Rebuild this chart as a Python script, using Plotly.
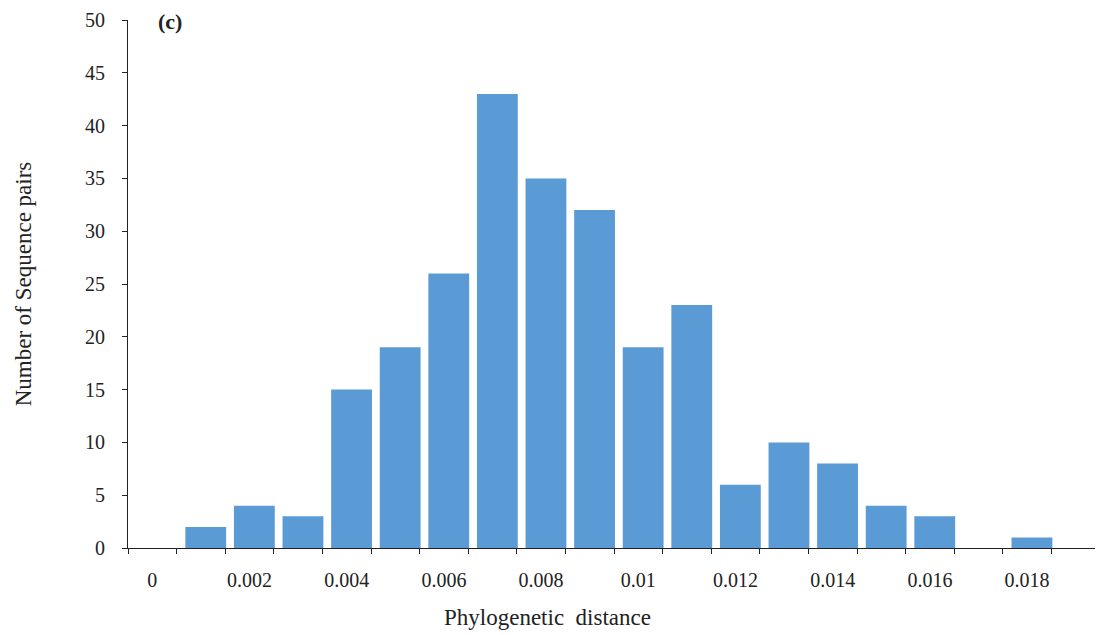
import plotly.graph_objects as go

categories = ["0", "0.001", "0.002", "0.003", "0.004", "0.005", "0.006", "0.007", "0.008", "0.009",
              "0.01", "0.011", "0.012", "0.013", "0.014", "0.015", "0.016", "0.017", "0.018", "0.019"]
counts = [0, 2, 4, 3, 15, 19, 26, 43, 35, 32, 19, 23, 6, 10, 8, 4, 3, 0, 1, 0]
tick_labels = [c if i % 2 == 0 and i < 19 else "" for i, c in enumerate(categories)]
x_title = "Phylogenetic&nbsp; distance"
y_title = "Number of Sequence pairs"

SERIF = "Liberation Serif, Times New Roman, serif"
TXT = "#222"

fig = go.Figure(go.Bar(
    x=categories, y=counts,
    marker=dict(color="#5B9BD5", line=dict(width=0)),
    width=0.84, offset=-0.32,
))

fig.update_layout(
    width=1103, height=635,
    margin=dict(l=120, r=11, t=12, b=95),
    plot_bgcolor="white", paper_bgcolor="white",
    showlegend=False,
    font=dict(family=SERIF, color=TXT),
    annotations=[
        dict(text="<b>(c)</b>", x=0.043, y=0.997, xref="paper", yref="paper",
             xanchor="center", yanchor="middle", showarrow=False,
             font=dict(family=SERIF, size=22, color=TXT)),
        dict(text=x_title, x=0.432, y=-0.131, xref="paper", yref="paper",
             xanchor="center", yanchor="middle", showarrow=False,
             font=dict(family=SERIF, size=23, color=TXT)),
    ],
)

fig.update_xaxes(
    type="category", tickmode="array", tickvals=categories, ticktext=tick_labels,
    tickson="boundaries", ticks="outside", ticklen=5, tickcolor=TXT, tickangle=0,
    showline=True, linecolor=TXT, linewidth=1, showgrid=False, automargin=False,
    tickfont=dict(family=SERIF, size=20, color=TXT), ticklabelstandoff=14,
    range=[-0.5, 19.5],
)
fig.update_yaxes(
    range=[0, 50], dtick=5, ticks="outside", ticklen=5, tickcolor=TXT,
    showline=True, linecolor=TXT, linewidth=1, showgrid=False, zeroline=False, automargin=False,
    tickfont=dict(family=SERIF, size=20, color=TXT), ticklabelstandoff=13,
    title=dict(text=y_title, font=dict(family=SERIF, size=23, color=TXT), standoff=46),
)

fig.write_html("out.html")
